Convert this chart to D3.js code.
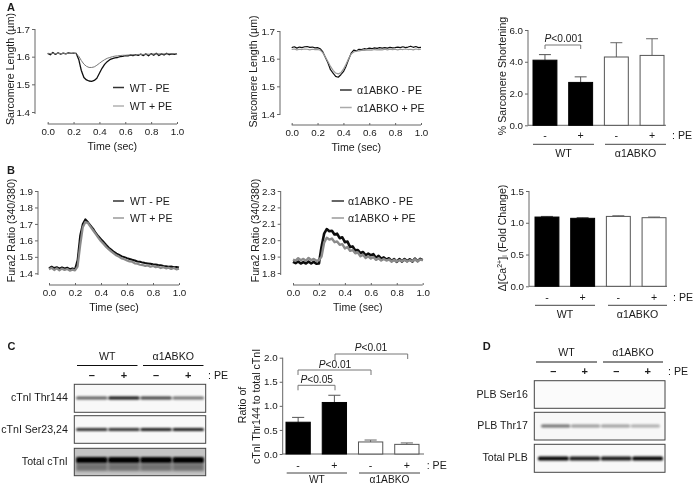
<!DOCTYPE html>
<html><head><meta charset="utf-8">
<script src="https://cdnjs.cloudflare.com/ajax/libs/d3/7.8.5/d3.min.js"></script>
<style>
html,body{margin:0;padding:0;background:#fff}
svg{display:block}
text{font-family:"Liberation Sans",Arial,sans-serif;fill:#1a1a1a}
</style></head><body>
<svg id="c" width="693" height="486"></svg>
<script>
const times=[0,.02,.04,.06,.08,.1,.12,.14,.16,.18,
.2,.22,.24,.26,.28,.3,.32,.34,.36,.38,
.4,.42,.44,.46,.48,.5,.52,.54,.56,.58,
.6,.62,.64,.66,.68,.7,.72,.74,.76,.78,
.8,.82,.84,.86,.88,.9,.92,.94,.96,.98,1];
const a1Minus=[1.612,1.607,1.615,1.608,1.614,1.609,1.613,1.61,1.614,1.612,
1.613,1.612,1.59,1.55,1.525,1.516,1.512,1.511,1.514,1.522,
1.54,1.558,1.572,1.582,1.589,1.593,1.596,1.597,1.6,1.601,
1.604,1.603,1.606,1.604,1.607,1.605,1.609,1.604,1.61,1.603,
1.611,1.605,1.612,1.604,1.61,1.606,1.612,1.607,1.61,1.608,1.611];
const a1Plus=[1.612,1.611,1.612,1.61,1.612,1.611,1.612,1.611,1.612,1.612,
1.612,1.611,1.602,1.586,1.573,1.565,1.561,1.561,1.563,1.569,
1.576,1.583,1.589,1.594,1.597,1.6,1.602,1.603,1.604,1.605,
1.605,1.606,1.606,1.607,1.607,1.608,1.608,1.608,1.609,1.609,
1.609,1.61,1.61,1.61,1.61,1.61,1.61,1.611,1.611,1.611,1.611];
const a2Minus=[1.64,1.643,1.638,1.642,1.64,1.643,1.644,1.641,1.642,1.639,
1.64,1.636,1.625,1.605,1.585,1.56,1.548,1.536,1.533,1.542,
1.553,1.572,1.597,1.62,1.631,1.628,1.634,1.633,1.636,1.635,
1.638,1.636,1.639,1.637,1.64,1.638,1.64,1.638,1.641,1.639,
1.64,1.642,1.64,1.643,1.64,1.642,1.645,1.641,1.644,1.64,1.641];
const a2Plus=[1.633,1.635,1.632,1.634,1.633,1.635,1.634,1.632,1.634,1.633,
1.633,1.631,1.622,1.606,1.59,1.572,1.558,1.548,1.545,1.549,
1.562,1.58,1.6,1.617,1.624,1.627,1.628,1.63,1.63,1.631,
1.632,1.631,1.633,1.632,1.633,1.632,1.634,1.632,1.634,1.633,
1.634,1.632,1.634,1.633,1.635,1.633,1.634,1.632,1.635,1.633,1.634];
const b1Minus=[1.43,1.44,1.432,1.437,1.428,1.436,1.43,1.434,1.425,1.43,
1.425,1.48,1.63,1.7,1.728,1.71,1.69,1.67,1.645,1.625,
1.608,1.59,1.572,1.555,1.543,1.53,1.52,1.512,1.503,1.498,
1.492,1.487,1.482,1.478,1.472,1.47,1.465,1.462,1.46,1.458,
1.455,1.453,1.45,1.449,1.445,1.443,1.44,1.441,1.437,1.438,1.435];
const b1Plus=[1.425,1.433,1.42,1.43,1.418,1.428,1.42,1.426,1.416,1.422,
1.418,1.44,1.57,1.68,1.712,1.705,1.682,1.66,1.638,1.615,
1.595,1.578,1.56,1.545,1.532,1.52,1.508,1.5,1.49,1.485,
1.478,1.472,1.47,1.46,1.458,1.452,1.45,1.445,1.448,1.44,
1.445,1.437,1.44,1.432,1.437,1.43,1.434,1.426,1.432,1.424,1.428];
const b2Minus=[1.868,1.86,1.87,1.858,1.866,1.858,1.87,1.858,1.868,1.856,
1.858,1.96,2.04,2.068,2.055,2.058,2.035,2.04,2.012,2.018,
1.988,1.992,1.958,1.962,1.938,1.94,1.922,1.928,1.908,1.918,
1.908,1.915,1.892,1.905,1.888,1.895,1.882,1.89,1.872,1.885,
1.868,1.885,1.87,1.885,1.872,1.884,1.87,1.888,1.872,1.886,1.878];
const b2Plus=[1.882,1.875,1.89,1.878,1.886,1.875,1.892,1.878,1.886,1.875,
1.878,1.9,1.985,2.015,2.004,2.01,1.988,1.992,1.972,1.976,
1.95,1.958,1.935,1.94,1.92,1.925,1.902,1.912,1.892,1.902,
1.888,1.898,1.88,1.89,1.876,1.885,1.876,1.882,1.87,1.88,
1.87,1.878,1.872,1.88,1.87,1.878,1.872,1.884,1.872,1.882,1.878];
const shorteningMean=[4.1,2.7,4.3,4.4];
const shorteningTop=[4.45,3.05,5.2,5.45];
const calciumMean=[1.09,1.07,1.1,1.08];
const calciumTop=[1.1,1.08,1.11,1.09];
const ratioMean=[.66,1.07,.25,.2];
const ratioTop=[.76,1.22,.29,.23];
const peSigns=["-","+","-","+"];
const blotC1=[.62,.95,.75,.55], blotC2=[.8,.8,.88,.88], blotC3=[1,1,1,1];
const blotD2=[.55,.38,.36,.3], blotD3=[1,.9,.9,1];

const svg=d3.select("#c");
const defs=svg.append("defs");
[["b1",1],["b2",1.6],["soft",.3]].forEach(([id,s])=>defs.append("filter").attr("id",id)
 .attr("x","-10%").attr("y","-100%").attr("width","120%").attr("height","300%")
 .append("feGaussianBlur").attr("stdDeviation",s));
const root=svg.append("g").attr("filter","url(#soft)");
const AX="#666";

function label(s,x,y,size,opt={}){
 const t=root.append("text").attr("x",x).attr("y",y).attr("font-size",size)
  .attr("dominant-baseline","central").attr("text-anchor",opt.anchor||"middle")
  .attr("font-weight",opt.bold?"bold":null).text(s);
 if(opt.rot) t.attr("transform",`rotate(-90 ${x} ${y})`);
 return t;
}
function styleAxis(g){g.select(".domain").attr("stroke",AX);g.selectAll("line").attr("stroke",AX);
 g.selectAll("text").attr("font-size",9.8).attr("fill","#2a2a2a");}

function linePanel(o){
 const x=d3.scaleLinear().domain([0,1]).range(o.xr);
 const y=d3.scaleLinear().domain(o.yd).range(o.yr);
 const gy=root.append("g").attr("transform",`translate(${o.yx},0)`)
  .call(d3.axisLeft(y).tickValues(o.yt).tickFormat(d3.format(".1f")).tickSize(3).tickPadding(2));
 const yEnd=o.yr[1];
 gy.select(".domain").attr("d",`M0,${o.yAxisBottom}V${yEnd}`);
 styleAxis(gy);
 const gx=root.append("g").attr("transform",`translate(0,${o.xy})`)
  .call(d3.axisBottom(x).tickValues([0,.2,.4,.6,.8,1]).tickFormat(d3.format(".1f")).tickSize(2).tickPadding(2));
 gx.selectAll("line").attr("y1",-2).attr("y2",0);
 gx.select(".domain").attr("d",`M${o.xr[0]},0H${o.xr[1]}`);
 styleAxis(gx);
 const ln=d3.line().x((d,i)=>x(times[i])).y(d=>y(d));
 o.series.forEach(s=>root.append("path").attr("d",ln(s.v)).attr("fill","none")
   .attr("stroke",s.c).attr("stroke-width",s.w).attr("stroke-linejoin","round"));
 o.legend.forEach(l=>{
  root.append("line").attr("x1",l.x1).attr("x2",l.x2).attr("y1",l.y).attr("y2",l.y)
    .attr("stroke",l.c).attr("stroke-width",l.w);
  label(l.t,l.tx,l.y,10.6,{anchor:"start"});
 });
 label("Time (sec)",(o.xr[0]+o.xr[1])/2,o.xy+21.5,10.6);
 label(o.yl[0],o.yl[1],o.yl[2],10.6,{rot:true});
}
const BK="#111",GR="#8a8a8a";
linePanel({xr:[47.7,177],yd:[1.4,1.7],yr:[112,29],yx:35,yAxisBottom:114,xy:124,yt:[1.4,1.5,1.6,1.7],
 series:[{v:a1Minus,c:BK,w:1.3},{v:a1Plus,c:"#777",w:1}],
 legend:[{x1:113,x2:124,y:87.5,c:"#333",w:1.5,t:"WT - PE",tx:129.7},{x1:113,x2:124,y:106,c:GR,w:1,t:"WT + PE",tx:129.7}],
 yl:["Sarcomere Length (µm)",9.5,69]});
linePanel({xr:[291.7,421],yd:[1.4,1.7],yr:[114,31],yx:280,yAxisBottom:115,xy:125,yt:[1.4,1.5,1.6,1.7],
 series:[{v:a2Minus,c:BK,w:1.2},{v:a2Plus,c:"#999",w:1.2}],
 legend:[{x1:340,x2:351.7,y:90,c:"#333",w:1.5,t:"α1ABKO - PE",tx:357},{x1:340,x2:351.7,y:107.5,c:"#aaa",w:1.5,t:"α1ABKO + PE",tx:357}],
 yl:["Sarcomere Length (µm)",252.7,71.5]});
linePanel({xr:[49,179],yd:[1.4,1.9],yr:[273.3,191],yx:38,yAxisBottom:275,xy:285,yt:[1.4,1.5,1.6,1.7,1.8,1.9],
 series:[{v:b1Minus,c:BK,w:2},{v:b1Plus,c:GR,w:2.2}],
 legend:[{x1:113,x2:124,y:201,c:BK,w:1.3,t:"WT - PE",tx:130},{x1:113,x2:124,y:218,c:GR,w:1.3,t:"WT + PE",tx:130}],
 yl:["Fura2 Ratio (340/380)",11,230.5]});
linePanel({xr:[293,422.7],yd:[1.8,2.3],yr:[273,191],yx:280.7,yAxisBottom:275,xy:285,yt:[1.8,1.9,2.0,2.1,2.2,2.3],
 series:[{v:b2Minus,c:BK,w:2.6},{v:b2Plus,c:GR,w:2.4}],
 legend:[{x1:331.7,x2:344,y:201,c:BK,w:1.3,t:"α1ABKO - PE",tx:348},{x1:331.7,x2:344,y:218,c:GR,w:1.3,t:"α1ABKO + PE",tx:348}],
 yl:["Fura2 Ratio (340/380)",255,230.5]});

function barPanel(o){
 const y=d3.scaleLinear().domain(o.yd).range(o.yr);
 const x=d3.scaleBand().domain(d3.range(4)).range(o.xr).paddingInner(o.pad);
 const gy=root.append("g").attr("transform",`translate(${o.yx},0)`)
  .call(d3.axisLeft(y).tickValues(o.yt).tickFormat(d3.format(".1f")).tickSize(3).tickPadding(2));
 gy.select(".domain").attr("d",`M0,${o.yr[0]}V${o.yr[1]}`);styleAxis(gy);
 root.append("line").attr("x1",o.yx).attr("x2",o.xEnd).attr("y1",o.yr[0]).attr("y2",o.yr[0]).attr("stroke",AX);
 o.mean.forEach((m,i)=>{
  const cx=x(i)+x.bandwidth()/2, black=i<2, col=black?"#000":"#555";
  root.append("path").attr("d",`M${cx},${y(m)}V${y(o.top[i])}M${cx-x.bandwidth()*.25},${y(o.top[i])}H${cx+x.bandwidth()*.25}`)
    .attr("stroke",black?"#555":"#666").attr("fill","none");
  root.append("rect").attr("x",x(i)).attr("width",x.bandwidth()).attr("y",y(m)).attr("height",y(0)-y(m))
    .attr("fill",black?"#000":"#fff").attr("stroke",col).attr("stroke-width",1);
  label(peSigns[i],cx,o.signY,10.6);
 });
 label(": PE",o.peX,o.signY,10.6,{anchor:"start"});
 [[0,1,"WT"],[2,3,"α1ABKO"]].forEach(([a,b,t],k)=>{
  const [x1,x2]=o.groupLines[k];
  root.append("line").attr("x1",x1).attr("x2",x2).attr("y1",o.lineY).attr("y2",o.lineY).attr("stroke","#444");
  label(t,(x1+x2)/2,o.lineY+(o.groupDy||8.5),o.groupSize||10.6);
 });
 if(o.yl[0]) label(o.yl[0],o.yl[1],o.yl[2],10.6,{rot:true});
 return {x,y};
}
function bracket(x1,x2,yTop,d1,d2,pv,tx,ty){
 root.append("path").attr("d",`M${x1},${yTop+d1}V${yTop}H${x2}V${yTop+d2}`).attr("fill","none").attr("stroke","#777");
 const t=label("",tx,ty,10.2);
 t.append("tspan").attr("font-style","italic").text("P");
 t.append("tspan").text(pv);
}
barPanel({yd:[0,6],yr:[125.3,30],xr:[533,664],pad:.33,yx:528,xEnd:666,yt:[0,2,4,6],mean:shorteningMean,top:shorteningTop,
 signY:135,peX:672,lineY:144.3,groupLines:[[533,594],[605,666]],yl:["% Sarcomere Shortening",502,76]});
bracket(545,580.7,45,4,4,"<0.001",563.7,38);
barPanel({yd:[0,1.5],yr:[286.3,191],xr:[535,666],pad:.33,yx:529,xEnd:667,yt:[0,.5,1,1.5],mean:calciumMean,top:calciumTop,
 signY:296.7,peX:673,lineY:305.3,groupLines:[[535,595],[608,667]],yl:["",501.7,238]});
const caL=label("",501.7,238,10.6,{rot:true});
caL.append("tspan").text("Δ[Ca");
caL.append("tspan").attr("font-size",7).attr("dy",-3).text("2+");
caL.append("tspan").attr("dy",3).text("]");
caL.append("tspan").attr("font-size",7).attr("dy",2).text("i");
caL.append("tspan").attr("dy",-2).text(" (Fold Change)");
barPanel({yd:[0,2],yr:[454,357.7],xr:[286,419],pad:.33,yx:282.7,xEnd:424,yt:[0,.5,1,1.5,2],mean:ratioMean,top:ratioTop,
 signY:465,peX:426.7,lineY:473,groupDy:6.2,groupSize:10.2,groupLines:[[286.7,347],[359,420]],yl:["cTnI Thr144 to total cTnI",255.7,406.5]});
label("Ratio of",242,405,10.6,{rot:true});
bracket(298,335,385.3,5,5,"<0.05",316.7,379);
bracket(298,371,370,5,5,"<0.01",335,364);
bracket(335,407.7,354,6,5,"<0.01",371,346.7);

[["A",11,7],["B",11,169.5],["C",11.5,346],["D",486.7,346]].forEach(([s,x,y])=>label(s,x,y,11,{bold:true}));

function blotHeader(x0,x1,x2,x3,lineY,labelY,signY,lanes,peX){
 [[x0,x1,"WT"],[x2,x3,"α1ABKO"]].forEach(([a,b,t])=>{
  root.append("line").attr("x1",a).attr("x2",b).attr("y1",lineY).attr("y2",lineY).attr("stroke","#111").attr("stroke-width",1);
  label(t,(a+b)/2,labelY,10.6);
 });
 ["–","+","–","+"].forEach((s,i)=>label(s,lanes(i)+lanes.bandwidth()/2,signY,11,{bold:true}));
 label(": PE",peX,signY,10.6,{anchor:"start"});
}
function blot(o){
 const lanes=d3.scaleBand().domain(d3.range(4)).range(o.xr).paddingInner(.02);
 const f=root.append("g");
 f.append("rect").attr("x",o.fx[0]).attr("y",o.fy[0]).attr("width",o.fx[1]-o.fx[0]).attr("height",o.fy[1]-o.fy[0])
  .attr("fill",o.bg||"#f8f8f8");
 if(o.smear) o.values.forEach((v,i)=>f.append("rect").attr("x",lanes(i)).attr("width",lanes.bandwidth())
   .attr("y",o.bandY+3).attr("height",8).attr("fill","#000").attr("opacity",.42*v).attr("filter","url(#b2)"));
 o.values.forEach((v,i)=>f.append("rect").attr("x",lanes(i)).attr("width",lanes.bandwidth())
   .attr("y",o.bandY-o.h/2).attr("height",o.h).attr("rx",1.5).attr("fill","#000").attr("opacity",v).attr("filter","url(#b1)"));
 f.append("rect").attr("x",o.fx[0]).attr("y",o.fy[0]).attr("width",o.fx[1]-o.fx[0]).attr("height",o.fy[1]-o.fy[0])
  .attr("fill","none").attr("stroke","#444").attr("stroke-width",1);
 label(o.name,o.fx[0]-6.5,(o.fy[0]+o.fy[1])/2-1,10.6,{anchor:"end"});
 return lanes;
}
const cx=[74.3,205.7], cr=[76,204];
const cl=blot({fx:cx,fy:[384.3,412.3],xr:cr,values:blotC1,bandY:398,h:3.2,name:"cTnI Thr144"});
blot({fx:cx,fy:[415.7,443.3],xr:cr,values:blotC2,bandY:429.5,h:3.2,name:"cTnI Ser23,24"});
blot({fx:cx,fy:[448.3,475.7],xr:cr,values:blotC3,bandY:460,h:6,bg:"#c4c4c4",smear:true,name:"Total cTnI"});
blotHeader(77,137.5,143,203.5,365.5,356,375,cl,208);
const dx=[534.3,665], dr=[538,663];
const dl=blot({fx:dx,fy:[380.7,408.3],xr:dr,values:[],bandY:394,h:2,bg:"#fbfbfb",name:"PLB Ser16"});
blot({fx:dx,fy:[412.3,440],xr:[541,660],values:blotD2,bandY:426,h:3.2,name:"PLB Thr17"});
blot({fx:dx,fy:[444.3,472.3],xr:dr,values:blotD3,bandY:458.5,h:4.2,name:"Total PLB"});
blotHeader(536,597,603,663,362,352,371,dl,668);
</script></body></html>
